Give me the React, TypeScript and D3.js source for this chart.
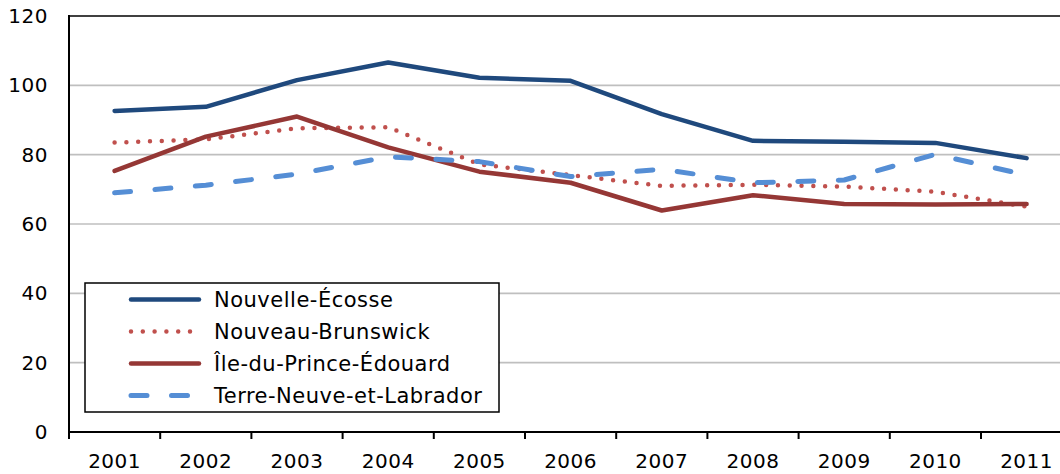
import React from "react";
import * as d3 from "d3";

const years = ["2001","2002","2003","2004","2005","2006","2007","2008","2009","2010","2011"];
const novaScotia = [92.6, 93.8, 101.5, 106.6, 102.2, 101.3, 91.7, 84.0, 83.7, 83.4, 79.0];
const newBrunswick = [83.5, 84.4, 87.6, 87.9, 77.2, 74.1, 71.0, 71.3, 70.8, 69.3, 65.0];
const pei = [75.3, 85.2, 91.0, 82.1, 75.1, 71.9, 63.9, 68.3, 65.8, 65.6, 65.8];
const newfoundland = [69.0, 71.2, 74.4, 79.4, 78.0, 73.7, 75.8, 71.9, 72.7, 80.1, 74.1];
const yTicks = [0, 20, 40, 60, 80, 100, 120];

const seriesNames = ["Nouvelle-Écosse", "Nouveau-Brunswick", "Île-du-Prince-Édouard", "Terre-Neuve-et-Labrador"];

export default function App() {
  const W = 1060, H = 474;
  const left = 69, top = 16, bottom = 432;
  const band = 91.2;
  const right = left + band * years.length;
  const x = d3.scaleBand().domain(years).range([left, right]);
  const y = d3.scaleLinear().domain([0, 120]).range([bottom, top]);
  const font = "'DejaVu Sans', Verdana, sans-serif";

  const series = [
    { name: seriesNames[0], data: novaScotia, color: "#1F497D", width: 4.5, dash: undefined as string | undefined, cap: "round" },
    { name: seriesNames[1], data: newBrunswick, color: "#C0504D", width: 4.5, dash: "0,11.8", cap: "round" },
    { name: seriesNames[2], data: pei, color: "#953735", width: 4.5, dash: undefined, cap: "round" },
    { name: seriesNames[3], data: newfoundland, color: "#558ED5", width: 5, dash: "16,24.5", cap: "round" },
  ];

  const line = d3.line<number>()
    .x((_, i) => (x(years[i]) as number) + x.bandwidth() / 2)
    .y((d) => y(d));

  const legX = 85, legY = 283, legW = 414, legH = 129;
  const rowY = [299.5, 331.5, 363.5, 395.5];

  return (
    <svg width={W} height={H} style={{ position: "absolute", left: 0, top: 0, background: "#fff" }} fontFamily={font}>
      {yTicks.filter(t => t > 0 && t < 120).map(t => (
        <line key={t} x1={left} x2={right} y1={y(t)} y2={y(t)} stroke="#BFBFBF" strokeWidth={1.6} />
      ))}
      <line x1={left} x2={right} y1={top} y2={top} stroke="#404040" strokeWidth={2} />
      <line x1={left} x2={left} y1={top - 1} y2={bottom + 7} stroke="#000" strokeWidth={2} />
      <line x1={left} x2={right} y1={bottom} y2={bottom} stroke="#000" strokeWidth={2} />
      {years.map(yr => (
        <line key={yr} x1={(x(yr) as number) + x.bandwidth()} x2={(x(yr) as number) + x.bandwidth()} y1={bottom} y2={bottom + 7} stroke="#000" strokeWidth={2} />
      ))}
      {yTicks.map(t => (
        <text key={t} x={48} y={y(t)} dy="0.35em" textAnchor="end" fontSize={20} letterSpacing={0.5} fill="#000">{t}</text>
      ))}
      {years.map(yr => (
        <text key={yr} x={(x(yr) as number) + x.bandwidth() / 2} y={468} textAnchor="middle" fontSize={20} letterSpacing={0.5} fill="#000">{yr}</text>
      ))}
      {series.map(s => (
        <path key={s.name} d={line(s.data) as string} fill="none" stroke={s.color} strokeWidth={s.width}
          strokeDasharray={s.dash} strokeLinecap={s.cap as any} strokeLinejoin="round" />
      ))}
      <rect x={legX} y={legY} width={legW} height={legH} fill="#fff" stroke="#000" strokeWidth={1.5} />
      {series.map((s, i) => (
        <g key={s.name}>
          <line x1={131} x2={199} y1={rowY[i]} y2={rowY[i]} stroke={s.color} strokeWidth={s.width}
            strokeDasharray={s.dash} strokeLinecap={s.cap as any} />
          <text x={214} y={rowY[i]} dy="0.35em" fontSize={21} letterSpacing={0.5} fill="#000">{s.name}</text>
        </g>
      ))}
    </svg>
  );
}
